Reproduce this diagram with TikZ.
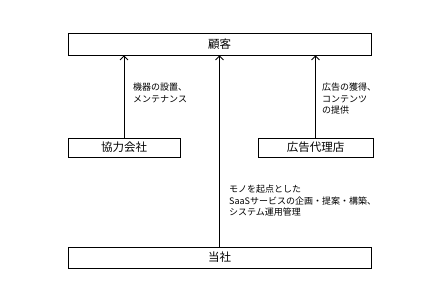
\documentclass[tikz,border=0pt]{standalone}
\usepackage{fontspec}
\setmainfont{Noto Sans CJK JP}
\usepackage{tikz}
\usetikzlibrary{arrows.meta}

\tikzset{
  boxnode/.style={draw, thick, minimum height=20pt, inner sep=0pt, font=\fontsize{11.5}{12}\selectfont},
  flowlabel/.style={anchor=north west, align=left, inner sep=0pt, font=\fontsize{9}{11.5}\selectfont}
}

\begin{document}
\begin{tikzpicture}[x=1pt, y=-1pt, >={Straight Barb[length=4pt]}]
  \useasboundingbox (0,0) rectangle (427,301);

  % Kästen
  \node[boxnode, minimum width=303pt, minimum height=22pt] (kokyaku) at (219.5,44) {顧客};
  \node[boxnode, minimum width=112pt, minimum height=19pt] (kyoryoku) at (124,147.5) {協力会社};
  \node[boxnode, minimum width=115pt, minimum height=19pt] (dairiten) at (315.5,147.5) {広告代理店};
  \node[boxnode, minimum width=303pt, minimum height=21pt] (tosha) at (219.5,257.5) {当社};

  % Pfeile
  \draw[->, thick] (kyoryoku.north) -- (kyoryoku.north |- kokyaku.south);
  \draw[->, thick] (dairiten.north) -- (dairiten.north |- kokyaku.south);
  \draw[->, thick] (tosha.north) -- (kokyaku.south);

  % Beschriftungen
  \node[flowlabel] (lblkyoryoku) at (133,83) {機器の設置、\\メンテナンス};
  \node[flowlabel] (lbldairiten) at (322,83) {広告の獲得、\\コンテンツ\\の提供};
  \node[flowlabel] (lbltosha) at (229,185) {モノを起点とした\\SaaSサービスの企画・提案・構築、\\システム運用管理};
\end{tikzpicture}
\end{document}
